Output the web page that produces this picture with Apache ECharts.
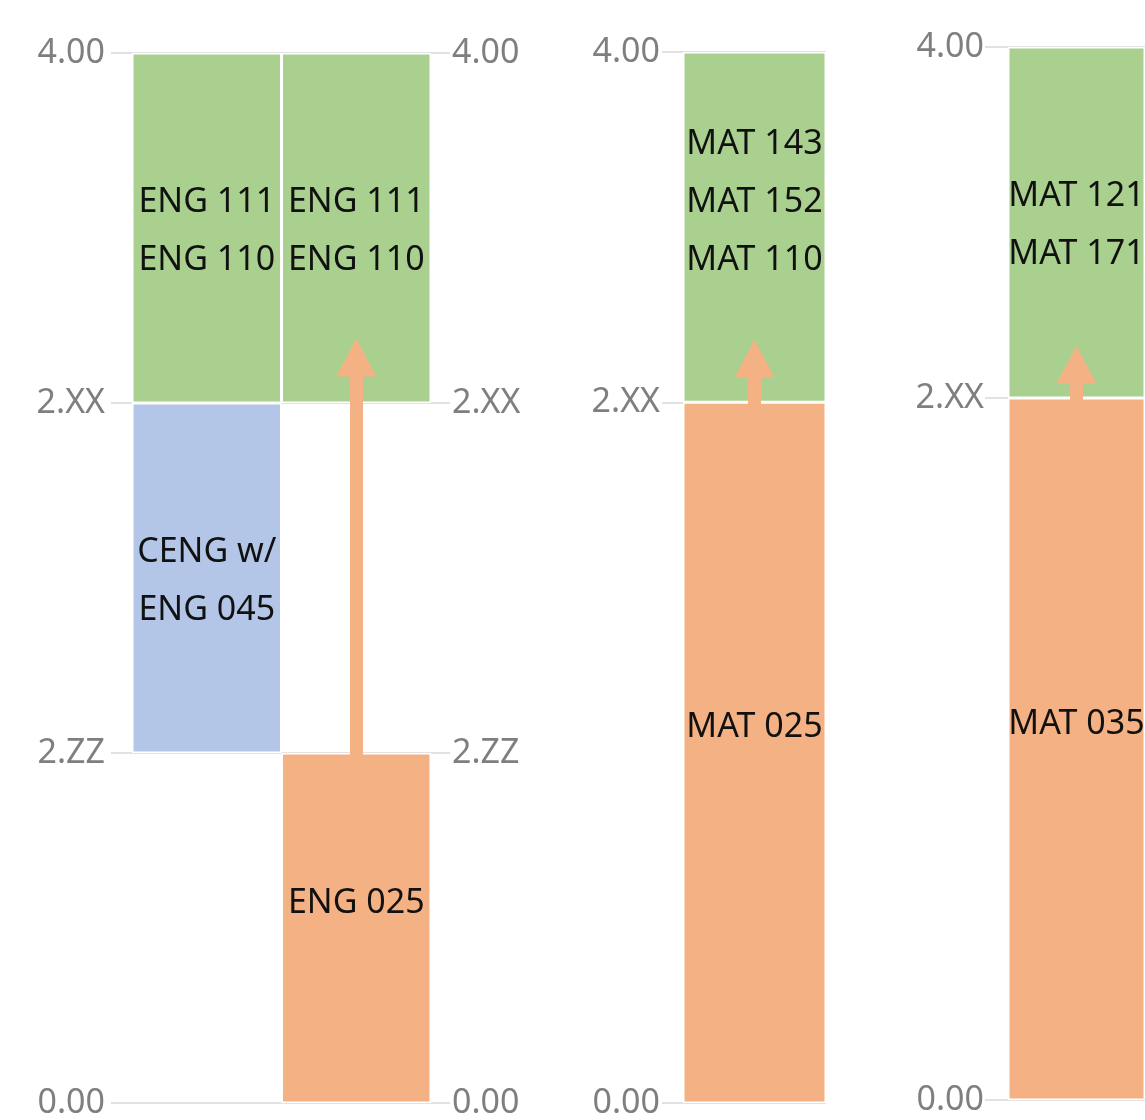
<!DOCTYPE html>
<html><head><meta charset="utf-8">
<script src="https://cdn.jsdelivr.net/npm/echarts@6/dist/echarts.min.js"></script>
<style>html,body{margin:0;padding:0;background:#fff}#c{width:1145px;height:1120px}</style>
</head><body><div id="c"></div>
<script>
// y levels: 0 -> 0.00, 1 -> 2.ZZ, 2 -> 2.XX, 3 -> 4.00
const levelLabels = ['0.00', '2.ZZ', '2.XX', '4.00'];
const engTickValues = [0, 1, 2, 3];
const matTickValues = [0, 2, 3];

// Panel 1: English
const engCategories = ['Corequisite path', 'Developmental path'];
const engDevelopmental = ['-', 1];
const engLowerGap = [1, '-'];
const engCorequisite = [1, '-'];
const engMiddleGap = ['-', 1];
const engCollege = [1, 1];
const engDevelopmentalText = ['', 'ENG 025'];
const engCorequisiteText = ['CENG w/\nENG 045', ''];
const engCollegeText = ['ENG 111\nENG 110', 'ENG 111\nENG 110'];
const engArrow = [0.9, 2.13];

// Panel 2: Math (MAT 025)
const matACategories = ['MAT 025 path'];
const matADevelopmental = [2];
const matACollege = [1];
const matADevelopmentalText = ['MAT 025'];
const matACollegeText = ['MAT 143\nMAT 152\nMAT 110'];
const matAArrow = [1.85, 2.125];

// Panel 3: Math (MAT 035)
const matBCategories = ['MAT 035 path'];
const matBDevelopmental = [2];
const matBCollege = [1];
const matBDevelopmentalText = ['MAT 035'];
const matBCollegeText = ['MAT 121\nMAT 171'];
const matBArrow = [1.85, 2.095];

const GREEN = '#a9d08e', BLUE = '#b4c6e7', ORANGE = '#f4b183';
const FONT = 'Noto Sans';

function seg(name, gi, data, color, texts, labelDy) {
  const s = {
    name, type: 'bar', xAxisIndex: gi, yAxisIndex: gi, stack: 's' + gi,
    data, barWidth: '100%', barGap: '0%', barCategoryGap: '0%',
    animation: false, silent: true,
    itemStyle: color ? { color, borderColor: '#ffffff', borderWidth: 1.5 } : { color: 'rgba(0,0,0,0)', borderWidth: 0 },
    label: { show: false }
  };
  if (texts) {
    s.label = {
      show: true, position: 'inside', color: '#111', fontFamily: FONT, fontSize: 34,
      lineHeight: 58, offset: [0, 3 + (labelDy || 0)],
      formatter: p => texts[p.dataIndex]
    };
  }
  return s;
}
function arrow(gi, idx, range) {
  return {
    type: 'line', xAxisIndex: gi, yAxisIndex: gi, data: [], animation: false, silent: true,
    markLine: {
      silent: true, animation: false, z: 6,
      symbol: ['none', 'triangle'], symbolSize: [40, 38],
      label: { show: false },
      lineStyle: { color: ORANGE, width: 13, type: 'solid', opacity: 1 },
      data: [[{ coord: [idx, range[0]] }, { coord: [idx, range[1]] }]]
    }
  };
}
function yAxis(gi, pos, margin, tickLen, vals) {
  return {
    type: 'value', gridIndex: gi, position: pos, min: 0, max: 3, interval: 1,
    axisLine: { show: false },
    axisTick: { show: true, length: tickLen, lineStyle: { color: '#d9d9d9', width: 1.5 }, customValues: vals },
    splitLine: { show: pos === 'left', lineStyle: { color: '#d9d9d9', width: 1.5 } },
    axisLabel: { color: '#7f7f7f', fontFamily: FONT, fontSize: 34, margin, customValues: vals,
      verticalAlign: 'middle', padding: [4, 0, 0, 0],
      formatter: v => levelLabels[Math.round(v)] }
  };
}
const xBase = { type: 'category', axisLine: { show: false }, axisTick: { show: false }, axisLabel: { show: false } };

const chart = echarts.init(document.getElementById('c'), null, { renderer: 'canvas' });
chart.setOption({
  backgroundColor: '#ffffff',
  animation: false,
  grid: [
    { left: 132, width: 299, top: 53, height: 1052 },
    { left: 683, width: 143, top: 52, height: 1052 },
    { left: 1008, width: 143, top: 47, height: 1053 }
  ],
  xAxis: [
    Object.assign({ gridIndex: 0, data: engCategories }, xBase),
    Object.assign({ gridIndex: 1, data: matACategories }, xBase),
    Object.assign({ gridIndex: 2, data: matBCategories }, xBase),
    Object.assign({ gridIndex: 0, data: engCategories, show: false }, xBase)
  ],
  yAxis: [
    yAxis(0, 'left', 27, 21, engTickValues),
    yAxis(1, 'left', 23, 21, matTickValues),
    yAxis(2, 'left', 24, 23, matTickValues),
    Object.assign(yAxis(0, 'right', 21, 19, engTickValues), { gridIndex: 0 })
  ],
  series: [
    seg('ENG developmental', 0, engDevelopmental, ORANGE, engDevelopmentalText, -28),
    seg('ENG lower gap', 0, engLowerGap, null, null),
    seg('ENG corequisite', 0, engCorequisite, BLUE, engCorequisiteText, 0),
    seg('ENG middle gap', 0, engMiddleGap, null, null),
    seg('ENG college', 0, engCollege, GREEN, engCollegeText, 0),
    arrow(0, 1, engArrow),
    seg('MAT A developmental', 1, matADevelopmental, ORANGE, matADevelopmentalText, -28),
    seg('MAT A college', 1, matACollege, GREEN, matACollegeText, -28),
    arrow(1, 0, matAArrow),
    seg('MAT B developmental', 2, matBDevelopmental, ORANGE, matBDevelopmentalText, -28),
    seg('MAT B college', 2, matBCollege, GREEN, matBCollegeText, 0),
    arrow(2, 0, matBArrow)
  ]
});
</script></body></html>
